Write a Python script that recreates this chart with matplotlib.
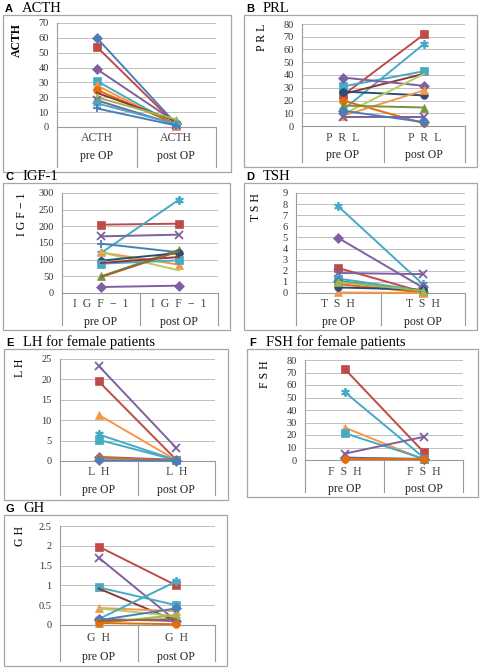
import matplotlib
matplotlib.use('Agg')
import matplotlib.pyplot as plt
from matplotlib.patches import Rectangle

plt.rcParams['font.family'] = ['Liberation Serif', 'DejaVu Serif']

W, H = 480, 670

# colour / marker of each series kind (Excel 2007 look)
STAR = (6, 2, 0)
kinds = {
    'bD': ('#4A7EBB', 'D'), 'rs': ('#BE4B48', 's'), 'g^': ('#98B954', '^'),
    'px': ('#7D60A0', 'x'), 'a*': ('#46AAC5', STAR), 'oo': ('#E46C0A', 'o'),
    'b+': ('#4A7EBB', '+'), 'pD': ('#7D60A0', 'D'), 'as': ('#46AAC5', 's'),
    'o^': ('#F79646', '^'), 'dr': ('#8C3836', None), 'dg^': ('#77933C', '^'),
    'br': ('#996633', None), 'lg': ('#B3CC66', None), 'db': ('#2C4D75', 'o'),
}

# ---- data (pre OP, post OP) ----
acth_pre = [60, 54, 39, 31, 28, 25, 23, 20, 18, 16, 12.5]
acth_post = [2, 1.5, 3, 1, 1, 2, 4, 5, 1.5, 2, 1]
acth_kind = ['bD', 'rs', 'pD', 'as', 'o^', 'oo', 'dr', 'g^', 'px', 'a*', 'b+']

prl_pre = [24, 12.5, 31, 25, 38, 27, 9, 20, 8, 16, 7, 12]
prl_post = [72, 64.5, 43, 41, 31.5, 24, 41, 2, 28, 14.5, 7, 3]
prl_kind = ['rs', 'a*', 'as', 'dr', 'pD', 'db', 'lg', 'oo', 'o^', 'dg^', 'px', 'bD']

igf_pre = [205, 120, 170, 148, 122, 122, 50, 97, 88, 90, 18, 48]
igf_post = [208, 280, 175, 122, 85, 68, 130, 120, 98, 108, 22, 125]
igf_kind = ['rs', 'a*', 'px', 'b+', 'o^', 'lg', 'dg^', 'db', 'as', 'dr', 'pD', 'br']

tsh_pre = [7.8, 4.95, 2.25, 1.8, 1.3, 1.1, 0.8, 0.05, 0.5, 1.0]
tsh_post = [0.8, 0.5, 0.1, 1.7, 0.2, 0.1, 0.05, 0.0, 0.3, 0.2]
tsh_kind = ['a*', 'pD', 'rs', 'px', 'as', 'bD', 'oo', 'o^', 'db', 'g^']

lh_pre = [23.3, 19.5, 11.3, 6.5, 5.2, 1.0, 0.8, 0.2]
lh_post = [3.2, 0.3, 0.2, 0.2, 0.2, 0.3, 0.2, 0.1]
lh_kind = ['px', 'rs', 'o^', 'a*', 'as', 'pD', 'oo', 'bD']

fsh_pre = [73, 54.5, 26, 21.5, 5, 1.5, 2, 1]
fsh_post = [6.5, 2, 0.5, 1, 18.5, 1, 0.5, 1]
fsh_kind = ['rs', 'a*', 'o^', 'as', 'px', 'bD', 'pD', 'oo']

gh_pre = [1.98, 1.7, 0.95, 0.92, 0.43, 0.42, 0.15, 0.15, 0.12, 0.05, 0.05, 0.1]
gh_post = [1.0, 0.1, 0.5, 0.1, 0.35, 0.22, 1.1, 0.1, 0.42, 0.25, 0.02, 0.15]
gh_kind = ['rs', 'px', 'as', 'dr', 'o^', 'lg', 'a*', 'pD', 'bD', 'g^', 'oo', 'br']

fig = plt.figure(figsize=(W / 100, H / 100), dpi=100)


def fx(x):
    return x / W


def fy(y):
    return 1 - y / H


def panel(letter, title, box, plot, ymax, step, pre, post, kind, ylab, cat,
          lab_y, ylab_bold=False):
    bx0, by0, bx1, by1 = box
    fig.add_artist(Rectangle((fx(bx0), fy(by1)), (bx1 - bx0) / W, (by1 - by0) / H,
                             transform=fig.transFigure, fill=False,
                             ec='#A6A6A6', lw=0.9))
    fig.text(fx(bx0 + 2), fy(by0 - 6), letter, family='Liberation Sans',
             weight='bold', fontsize=8, va='center')
    fig.text(fx(bx0 + 19), fy(by0 - 7), title, fontsize=10.5, va='center')

    x0, y0, x1, y1 = plot
    ax = fig.add_axes([fx(x0), fy(y1), (x1 - x0) / W, (y1 - y0) / H])
    ax.set_xlim(0, 2)
    ax.set_ylim(0, ymax)
    ticks = [i * step for i in range(int(round(ymax / step)) + 1)]
    ax.set_yticks(ticks)
    ax.set_yticklabels([('%g' % t) for t in ticks], fontsize=7.5, color='#333333')
    ax.set_xticks([])
    ax.tick_params(axis='y', length=0, pad=6)
    ax.grid(axis='y', color='#BFBFBF', lw=0.7)
    ax.set_axisbelow(True)
    for s in ['top', 'right']:
        ax.spines[s].set_visible(False)
    ax.spines['left'].set_color('#9A9A9A')
    ax.spines['bottom'].set_color('#9A9A9A')
    ax.spines['left'].set_linewidth(0.8)
    ax.spines['bottom'].set_linewidth(0.8)

    for a, b, k in zip(pre, post, kind):
        c, m = kinds[k]
        ms = 5.5 if m in ('D', 'o') else 6.2
        mew = 1.3 if m in ('x', '+', STAR) else 0.5
        ax.plot([0.5, 1.5], [a, b], color=c, lw=1.4, marker=m, ms=ms,
                mew=mew, mec=c, mfc=c, clip_on=False, zorder=3)

    # category table under the plot
    depth = (by1 - 5 - y1) / (y1 - y0)
    for xv in [0, 1, 2]:
        ax.plot([xv, xv], [0, -depth * ymax], color='#9A9A9A', lw=0.8,
                clip_on=False)
    for xc, sub in [(0.5, 'pre OP'), (1.5, 'post OP')]:
        xp = x0 + (x1 - x0) * xc / 2
        fig.text(fx(xp), fy(lab_y[0]), cat, fontsize=8.5, ha='center',
                 va='center', color='#444444')
        fig.text(fx(xp), fy(lab_y[1]), sub, fontsize=8.5, ha='center',
                 va='center', color='#222222')

    fig.text(fx(x0 - 40), fy(y0), ylab, rotation=90, fontsize=8.5,
             ha='center', va='top', weight='bold' if ylab_bold else 'normal')
    return ax


panel('A', 'ACTH', (3, 15, 231, 172), (57, 23, 216, 127), 70, 10,
      acth_pre, acth_post, acth_kind, 'ACTH', 'ACTH', (138, 156), True)
panel('B', 'PRL', (244, 15, 477, 167), (302, 24, 465, 126), 80, 10,
      prl_pre, prl_post, prl_kind, 'P R L', 'P  R  L', (138, 155))
panel('C', 'IGF-1', (3, 183, 230, 330), (62, 193, 218, 293), 300, 50,
      igf_pre, igf_post, igf_kind, 'I G F − 1', 'I  G  F  −  1', (304, 322))
panel('D', 'TSH', (244, 183, 477, 330), (296, 193, 465, 293), 9, 1,
      tsh_pre, tsh_post, tsh_kind, 'T S H', 'T  S  H', (304, 322))
panel('E', 'LH for female patients', (4, 349, 228, 500), (60, 359, 215, 461), 25, 5,
      lh_pre, lh_post, lh_kind, 'L H', 'L  H', (472, 490))
panel('F', 'FSH for female patients', (247, 349, 478, 497), (305, 360, 463, 460), 80, 10,
      fsh_pre, fsh_post, fsh_kind, 'F S H', 'F  S  H', (472, 489))
panel('G', 'GH', (4, 515, 227, 666), (60, 526, 215, 625), 2.5, 0.5,
      gh_pre, gh_post, gh_kind, 'G H', 'G  H', (638, 657))

fig.savefig('out.png', dpi=100, facecolor='white')
